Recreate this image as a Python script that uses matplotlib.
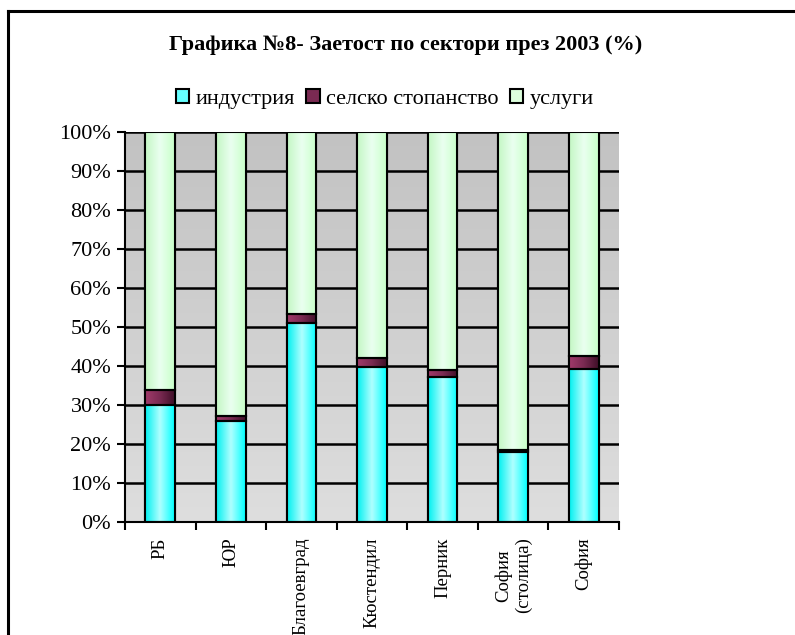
import numpy as np
import matplotlib.pyplot as plt
from matplotlib.lines import Line2D
from matplotlib.patches import Rectangle
from matplotlib.colors import LinearSegmentedColormap

plt.rcParams['font.family'] = ['Liberation Serif', 'DejaVu Serif']

# data (percent)
regions = ['РБ', 'ЮР', 'Благоевград', 'Кюстендил', 'Перник', 'София\n(столица)', 'София']
industry = [30.0, 26.0, 51.1, 39.7, 37.2, 18.0, 39.3]
agriculture = [3.8, 1.1, 2.2, 2.3, 1.7, 0.4, 3.2]
services = [100 - i - a for i, a in zip(industry, agriculture)]
series_names = ['индустрия', 'селско стопанство', 'услуги']

# gradient colours: (edge, centre, edge) per series
grad = {
    'индустрия': ['#00f0f0', '#b0ffff', '#00ffff'],
    'селско стопанство': ['#a03a6a', '#7a2a52', '#3f0f28'],
    'услуги': ['#c4f7c4', '#eafff0', '#c8ffc8'],
}
base = {'индустрия': '#66ffff', 'селско стопанство': '#7a2a52', 'услуги': '#ddffdd'}

fig = plt.figure(figsize=(7.95, 6.35), dpi=100)
ax = fig.add_axes([125 / 795, 113 / 635, 494 / 795, 390 / 635])

x = np.arange(len(regions))
w = 0.42

# grey gradient background
bg = LinearSegmentedColormap.from_list('bg', ['#dedede', '#c2c2c2'])
ax.imshow(np.linspace(0, 1, 256).reshape(-1, 1), cmap=bg, aspect='auto',
          extent=[-0.5, len(regions) - 0.5, 0, 100], origin='lower', zorder=0)

for y in range(10, 101, 10):
    ax.axhline(y, color='black', lw=1.8, zorder=1)

bottoms = np.zeros(len(regions))
for name, vals in zip(series_names, [industry, agriculture, services]):
    bars = ax.bar(x, vals, w, bottom=bottoms, color=base[name], edgecolor='black',
                  lw=1.5, zorder=3, label=name)
    cmap = LinearSegmentedColormap.from_list(name, grad[name])
    for b in bars:
        bx, by = b.get_x(), b.get_y()
        im = ax.imshow(np.linspace(0, 1, 64).reshape(1, -1), cmap=cmap, aspect='auto',
                       extent=[bx, bx + b.get_width(), by, by + b.get_height()],
                       zorder=3.5)
        im.set_clip_path(b)
        edge = Rectangle((bx, by), b.get_width(), b.get_height(), fill=False,
                         edgecolor='black', lw=1.5, zorder=4)
        ax.add_patch(edge)
    bottoms += np.array(vals)

ax.set_xlim(-0.5, len(regions) - 0.5)
ax.set_ylim(0, 100)

for s in ['top', 'right']:
    ax.spines[s].set_visible(False)
ax.spines['left'].set_linewidth(1.5)
ax.spines['bottom'].set_linewidth(1.5)
ax.spines['left'].set_zorder(5)
ax.spines['bottom'].set_zorder(5)

ax.set_yticks(range(0, 101, 10))
ax.set_yticklabels([f'{v}%' for v in range(0, 101, 10)], fontsize=16)
ax.tick_params(axis='y', length=6, width=1.5, direction='out', pad=4)

ax.set_xticks(np.arange(len(regions) + 1) - 0.5)
ax.set_xticklabels([])
ax.tick_params(axis='x', length=6, width=1.5, direction='out')
for xi, lab in zip(x, regions):
    ax.text(xi, -4.0, lab, rotation=90, ha='center', va='top', fontsize=13.5,
            multialignment='center', transform=ax.transData, clip_on=False)

fig.text(0.51, 1 - 45 / 635, 'Графика №8- Заетост по сектори през 2003 (%)',
         ha='center', va='center', fontsize=16, fontweight='bold')

handles = [Rectangle((0, 0), 1, 1, facecolor=base[n], edgecolor='black', lw=1.5)
           for n in series_names]
fig.legend(handles, series_names, loc='center', bbox_to_anchor=(385 / 795, 1 - 99 / 635),
           ncol=3, frameon=False, fontsize=16, handlelength=0.6, handleheight=0.6,
           handletextpad=0.3, columnspacing=0.5)

# outer frame
fig.add_artist(Line2D([8 / 795, 8 / 795], [0, 1 - 11 / 635], color='black', lw=2.2,
                      transform=fig.transFigure))
fig.add_artist(Line2D([8 / 795, 1], [1 - 11 / 635, 1 - 11 / 635], color='black', lw=2.2,
                      transform=fig.transFigure))

fig.savefig('out.png', dpi=100)
